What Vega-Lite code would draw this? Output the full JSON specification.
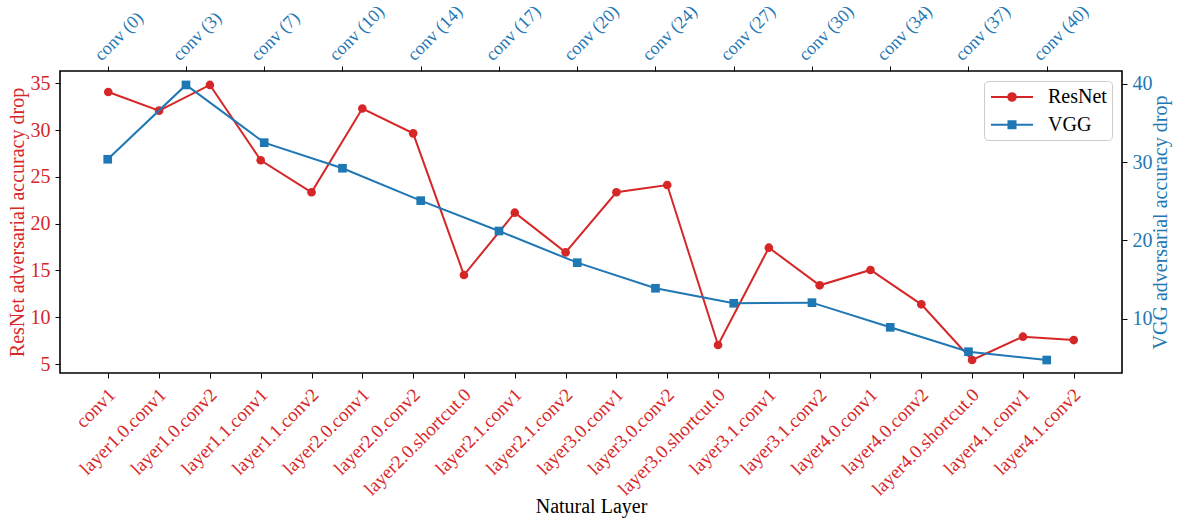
{
  "$schema": "https://vega.github.io/schema/vega-lite/v6.json",
  "width": 1062,
  "height": 302,
  "autosize": {"type": "none"},
  "padding": {"left": 60, "top": 71, "right": 56, "bottom": 145},
  "background": "white",
  "config": {
    "view": {"stroke": "black", "strokeWidth": 1.6},
    "font": "Liberation Serif",
    "axis": {
      "labelFont": "Liberation Serif",
      "titleFont": "Liberation Serif",
      "labelFontSize": 20,
      "titleFontSize": 20,
      "titleFontWeight": "normal",
      "tickColor": "black",
      "tickSize": 5,
      "tickWidth": 1,
      "domain": false,
      "grid": false,
      "labelOverlap": false,
      "labelBound": false,
      "labelFlush": false
    }
  },
  "datasets": {
    "resnet": [
      {"layer": "conv1", "drop": 34.07, "model": "ResNet"},
      {"layer": "layer1.0.conv1", "drop": 32.07, "model": "ResNet"},
      {"layer": "layer1.0.conv2", "drop": 34.82, "model": "ResNet"},
      {"layer": "layer1.1.conv1", "drop": 26.77, "model": "ResNet"},
      {"layer": "layer1.1.conv2", "drop": 23.35, "model": "ResNet"},
      {"layer": "layer2.0.conv1", "drop": 32.3, "model": "ResNet"},
      {"layer": "layer2.0.conv2", "drop": 29.65, "model": "ResNet"},
      {"layer": "layer2.0.shortcut.0", "drop": 14.51, "model": "ResNet"},
      {"layer": "layer2.1.conv1", "drop": 21.17, "model": "ResNet"},
      {"layer": "layer2.1.conv2", "drop": 16.93, "model": "ResNet"},
      {"layer": "layer3.0.conv1", "drop": 23.35, "model": "ResNet"},
      {"layer": "layer3.0.conv2", "drop": 24.13, "model": "ResNet"},
      {"layer": "layer3.0.shortcut.0", "drop": 7.03, "model": "ResNet"},
      {"layer": "layer3.1.conv1", "drop": 17.43, "model": "ResNet"},
      {"layer": "layer3.1.conv2", "drop": 13.41, "model": "ResNet"},
      {"layer": "layer4.0.conv1", "drop": 15.05, "model": "ResNet"},
      {"layer": "layer4.0.conv2", "drop": 11.38, "model": "ResNet"},
      {"layer": "layer4.0.shortcut.0", "drop": 5.43, "model": "ResNet"},
      {"layer": "layer4.1.conv1", "drop": 7.92, "model": "ResNet"},
      {"layer": "layer4.1.conv2", "drop": 7.56, "model": "ResNet"}
    ],
    "vgg": [
      {"conv": "conv (0)", "drop": 30.38, "model": "VGG"},
      {"conv": "conv (3)", "drop": 39.88, "model": "VGG"},
      {"conv": "conv (7)", "drop": 32.5, "model": "VGG"},
      {"conv": "conv (10)", "drop": 29.23, "model": "VGG"},
      {"conv": "conv (14)", "drop": 25.09, "model": "VGG"},
      {"conv": "conv (17)", "drop": 21.21, "model": "VGG"},
      {"conv": "conv (20)", "drop": 17.16, "model": "VGG"},
      {"conv": "conv (24)", "drop": 13.89, "model": "VGG"},
      {"conv": "conv (27)", "drop": 11.97, "model": "VGG"},
      {"conv": "conv (30)", "drop": 12.05, "model": "VGG"},
      {"conv": "conv (34)", "drop": 8.9, "model": "VGG"},
      {"conv": "conv (37)", "drop": 5.78, "model": "VGG"},
      {"conv": "conv (40)", "drop": 4.72, "model": "VGG"}
    ]
  },
  "layer": [
    {
      "data": {"name": "resnet"},
      "encoding": {
        "x": {
          "field": "layer", "type": "ordinal", "sort": null,
          "scale": {"type": "point", "padding": 0.95},
          "axis": {
            "orient": "bottom", "title": "Natural Layer", "titleColor": "black",
            "labelAngle": -45, "labelAlign": "right", "labelBaseline": "top",
            "labelFontSize": 19,
            "labelColor": "#d62728", "labelPadding": 7, "labelOffset": -3,
            "titleY": 133, "titleBaseline": "middle"
          }
        },
        "y": {
          "field": "drop", "type": "quantitative",
          "scale": {"domain": [4.04, 36.31], "nice": false, "zero": false},
          "axis": {
            "orient": "left", "values": [5, 10, 15, 20, 25, 30, 35],
            "title": "ResNet adversarial accuracy drop", "titleColor": "#d62728",
            "labelColor": "#d62728", "labelPadding": 5, "titlePadding": 3
          }
        },
        "color": {
          "field": "model", "type": "nominal",
          "scale": {"domain": ["ResNet", "VGG"], "range": ["#d62728", "#1f77b4"]},
          "legend": {
            "title": null, "orient": "none", "legendX": 924, "legendY": 10,
            "fillColor": "white", "strokeColor": "#cccccc", "cornerRadius": 4,
            "padding": 5, "rowPadding": 6.7, "symbolSize": 400, "symbolStrokeWidth": 2,
            "labelOffset": 37, "labelFontSize": 20, "labelFont": "Liberation Serif", "labelColor": "black",
            "encode": {
              "symbols": {
                "update": {
                  "shape": {"signal": "datum.value === 'ResNet' ? 'M-0.9,0H3.3M0.82,0A0.38,0.38 0 1,1 1.58,0A0.38,0.38 0 1,1 0.82,0Z' : 'M-0.9,0H3.3M0.85,-0.35H1.55V0.35H0.85Z'"},
                  "fill": {"signal": "datum.value === 'ResNet' ? '#d62728' : '#1f77b4'"},
                  "stroke": {"signal": "datum.value === 'ResNet' ? '#d62728' : '#1f77b4'"},
                  "strokeWidth": {"value": 2},
                  "opacity": {"value": 1},
                  "fillOpacity": {"value": 1}
                }
              }
            }
          }
        }
      },
      "layer": [
        {"mark": {"type": "line", "strokeWidth": 2}},
        {"mark": {"type": "point", "shape": "circle", "filled": true, "size": 75, "opacity": 1}}
      ]
    },
    {
      "data": {"name": "vgg"},
      "encoding": {
        "x": {
          "field": "conv", "type": "ordinal", "sort": null,
          "scale": {"type": "point", "padding": 0.786, "align": 0.388},
          "axis": {
            "orient": "top", "title": null,
            "labelAngle": -45, "labelAlign": "left", "labelBaseline": "bottom",
            "labelFontSize": 18,
            "labelColor": "#1f77b4", "labelPadding": 2, "labelOffset": -4
          }
        },
        "y": {
          "field": "drop", "type": "quantitative",
          "scale": {"domain": [3.06, 41.66], "nice": false, "zero": false},
          "axis": {
            "orient": "right", "values": [10, 20, 30, 40],
            "title": "VGG adversarial accuracy drop", "titleColor": "#1f77b4",
            "titleAngle": 270, "titleBaseline": "top",
            "labelColor": "#1f77b4", "labelPadding": 5, "titlePadding": -2
          }
        },
        "color": {
          "field": "model", "type": "nominal",
          "scale": {"domain": ["ResNet", "VGG"], "range": ["#d62728", "#1f77b4"]}
        }
      },
      "layer": [
        {"mark": {"type": "line", "strokeWidth": 2}},
        {"mark": {"type": "point", "shape": "square", "filled": true, "size": 75, "opacity": 1}}
      ]
    }
  ],
  "resolve": {"scale": {"x": "independent", "y": "independent"}}
}
